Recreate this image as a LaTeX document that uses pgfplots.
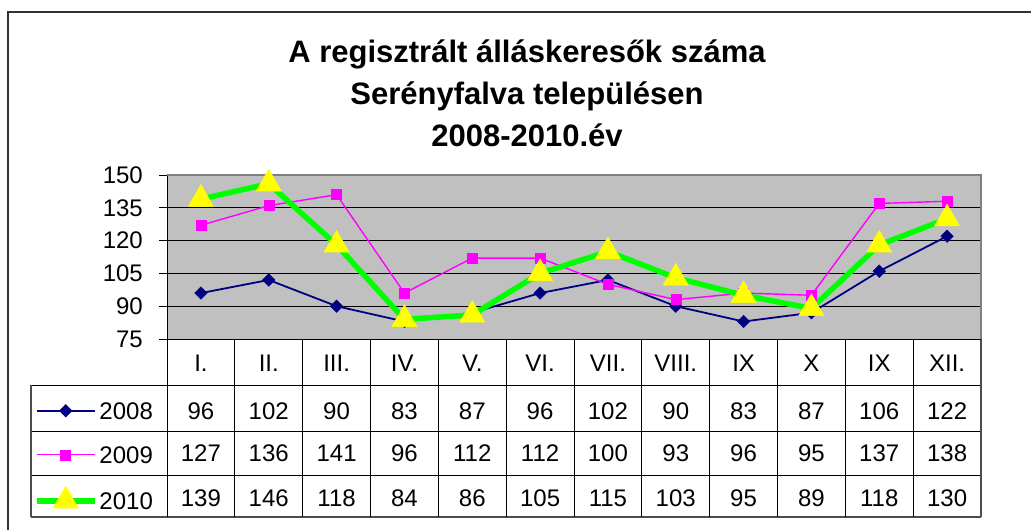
\documentclass[border=0pt]{standalone}
\usepackage{pgfplots}
\pgfplotsset{compat=1.18}
\usepackage{fontspec}
\setmainfont{Liberation Sans}
\definecolor{navyc}{HTML}{000080}
\definecolor{magc}{HTML}{FF00FF}
\definecolor{grnc}{HTML}{00FF00}
\definecolor{yelc}{HTML}{FFFF00}
\definecolor{bgc}{HTML}{C0C0C0}
\definecolor{brd}{HTML}{808080}
\begin{document}
\begin{tikzpicture}[x=1pt,y=1pt]
\useasboundingbox (0,0) rectangle (1031,530);
\clip (0,0) rectangle (1031,530);
\fill[white] (0,0) rectangle (1031,530);
\draw[line width=1.5pt, black!80] (8,-20) -- (8,518) -- (1050,518);
\node[font=\fontsize{31}{42}\selectfont\bfseries, align=center, anchor=base, inner sep=0pt] at (527,383)
  {A regisztrált álláskeresők száma\\Serényfalva településen\\2008-2010.év};
% data table grid
\draw[black, line width=0.9pt] (31,145) -- (981,145);
\draw[black, line width=0.9pt] (32,99) -- (981,99);
\draw[black, line width=0.9pt] (32,54.5) -- (981,54.5);
\draw[brd!60!black, line width=1.2pt] (31,13) -- (981,13);
\draw[brd!60!black, line width=1.2pt] (31,145) -- (31,13);
\foreach \k in {0,...,11}
  \draw[black, line width=0.9pt] ({167+67.833*\k},191) -- ({167+67.833*\k},13);
\draw[brd!60!black, line width=1.2pt] (981,191) -- (981,13);
\foreach \lab [count=\i from 0] in {I.,II.,III.,IV.,V.,VI.,VII.,VIII.,IX,X,IX,XII.}
  \node[anchor=base, inner sep=0pt, font=\fontsize{24}{28}\selectfont] at ({200.92+67.833*\i},158) {\lab};
\foreach \v [count=\i from 0] in {96,102,90,83,87,96,102,90,83,87,106,122}
  \node[anchor=base, inner sep=0pt, font=\fontsize{24}{28}\selectfont] at ({200.92+67.833*\i},110.7) {\v};
\foreach \v [count=\i from 0] in {127,136,141,96,112,112,100,93,96,95,137,138}
  \node[anchor=base, inner sep=0pt, font=\fontsize{24}{28}\selectfont] at ({200.92+67.833*\i},68.3) {\v};
\foreach \v [count=\i from 0] in {139,146,118,84,86,105,115,103,95,89,118,130}
  \node[anchor=base, inner sep=0pt, font=\fontsize{24}{28}\selectfont] at ({200.92+67.833*\i},23.3) {\v};
\begin{axis}[
  at={(167pt,191pt)}, anchor=south west,
  width=814pt, height=164pt, scale only axis,
  xmin=-0.5, xmax=11.5, ymin=75, ymax=150,
  axis background/.style={fill=bgc},
  axis lines*=left,
  axis line style={black, line width=0.9pt},
  xtick=\empty,
  ytick={75,90,105,120,135,150},
  ymajorgrids,
  grid style={black, line width=0.9pt},
  tick align=outside, major tick length=8pt,
  ytick style={black, line width=0.9pt},
  yticklabel style={font=\fontsize{24}{28}\selectfont, anchor=east, inner sep=0pt, xshift=-16pt},
  /pgf/number format/assume math mode=true,
  clip=false,
  legend style={draw=none, fill=none, at={(axis cs:-2.461,47.9)}, anchor=north west,
    inner sep=0pt, outer sep=0pt, row sep=19pt, column sep=2pt,
    font=\fontsize{24}{28}\selectfont,
    nodes={inner sep=0pt, text height=21pt, text depth=4pt}},
  legend cell align=left,
  legend image code/.code={\draw[mark repeat=2,mark phase=2,#1] plot coordinates {(0pt,0pt) (29pt,0pt) (58pt,0pt)};},
]
\draw[brd, line width=1.2pt] (axis cs:-0.5,150) -- (axis cs:11.5,150) -- (axis cs:11.5,75);
\addplot[navyc, line width=1.8pt, mark=square*, mark size=4.4pt, mark options={rotate=45, fill=navyc, draw=navyc, line width=0.5pt}]
  coordinates {(0,96) (1,102) (2,90) (3,83) (4,87) (5,96) (6,102) (7,90) (8,83) (9,87) (10,106) (11,122)};
\addlegendentry{2008}
\addplot[magc, line width=1.4pt, mark=square*, mark size=5pt, mark options={fill=magc, draw=magc, line width=0.5pt}]
  coordinates {(0,127) (1,136) (2,141) (3,96) (4,112) (5,112) (6,100) (7,93) (8,96) (9,95) (10,137) (11,138)};
\addlegendentry{2009}
\addplot[grnc, line width=5.5pt, mark=triangle*, mark size=14.5pt, mark options={fill=yelc, draw=yelc, line width=0.5pt}]
  coordinates {(0,139) (1,146) (2,118) (3,84) (4,86) (5,105) (6,115) (7,103) (8,95) (9,89) (10,118) (11,130)};
\addlegendentry{2010}
\end{axis}
\end{tikzpicture}
\end{document}
